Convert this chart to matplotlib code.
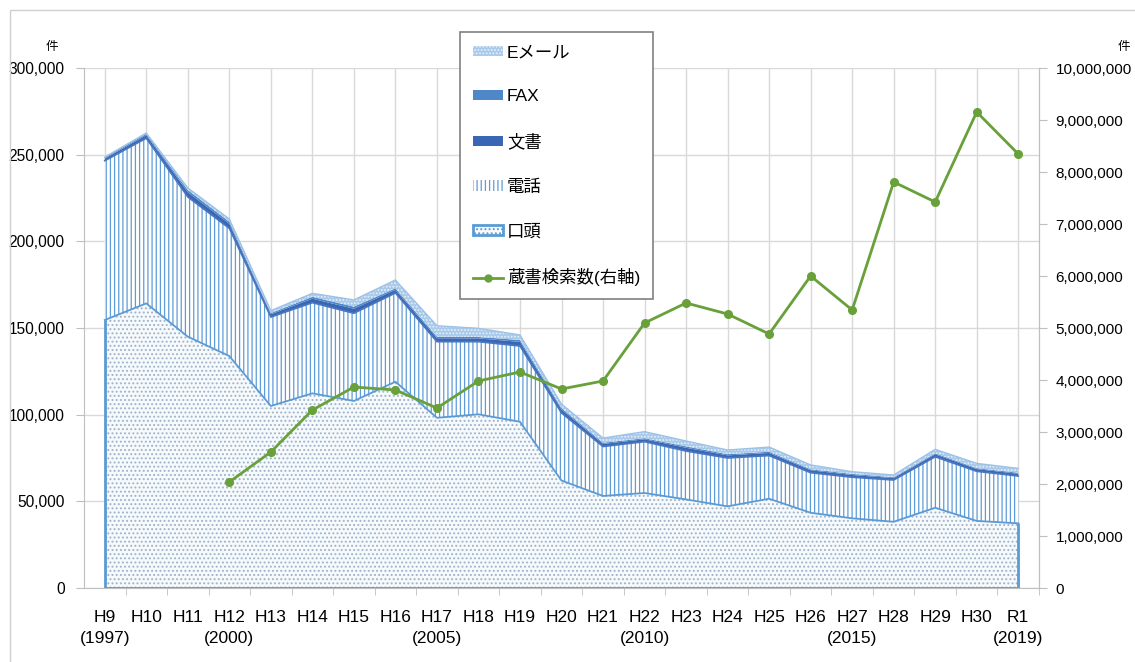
import numpy as np
import matplotlib
matplotlib.use('Agg')
import matplotlib.pyplot as plt
from matplotlib.patches import Patch, Rectangle
from matplotlib.lines import Line2D
from matplotlib.ticker import FuncFormatter, MultipleLocator

plt.rcParams['font.family'] = ['Liberation Sans', 'Noto Sans CJK JP']
plt.rcParams['hatch.linewidth'] = 0.9

# --- data ---
years = ['H9\n(1997)', 'H10', 'H11', 'H12\n(2000)', 'H13', 'H14', 'H15', 'H16',
         'H17\n(2005)', 'H18', 'H19', 'H20', 'H21', 'H22\n(2010)', 'H23', 'H24',
         'H25', 'H26', 'H27\n(2015)', 'H28', 'H29', 'H30', 'R1\n(2019)']
koutou = [154600, 164200, 145000, 133800, 105000, 112300, 107900, 119000,
          98200, 100200, 95900, 62000, 53100, 54800, 51100, 47100,
          51500, 43400, 40200, 38200, 46300, 38700, 37300]
denwa = [91900, 95300, 80600, 73700, 51300, 52300, 50600, 51200,
         43900, 41900, 43700, 39000, 28500, 29600, 27900, 27900,
         24900, 23100, 23700, 24100, 29400, 28600, 27300]
bunsho = [1200, 1700, 2700, 2600, 1600, 2300, 2600, 1800,
          2000, 1900, 2400, 1900, 1500, 1400, 1900, 1500,
          1500, 1400, 1300, 1100, 1400, 1300, 1300]
fax = [600, 800, 1300, 1200, 700, 1100, 1200, 900,
       900, 800, 1100, 900, 700, 600, 800, 700,
       700, 600, 600, 500, 600, 500, 600]
email = [300, 500, 1200, 1600, 1400, 2000, 3900, 4800,
         6300, 5000, 2900, 2300, 2700, 3800, 3100, 2400,
         2700, 2500, 1300, 1300, 2300, 2800, 2500]
kensaku = [np.nan, np.nan, np.nan, 2038000, 2615000, 3423000, 3865000, 3808000,
           3461000, 3981000, 4154000, 3827000, 3981000, 5096000, 5481000, 5269000,
           4885000, 6000000, 5346000, 7808000, 7423000, 9154000, 8346000]

x = np.arange(len(years))
c1 = np.array(koutou)
c2 = c1 + np.array(denwa)
c3 = c2 + np.array(bunsho)
c4 = c3 + np.array(fax)
c5 = c4 + np.array(email)

fig = plt.figure(figsize=(11.35, 6.62), dpi=100)
ax = fig.add_axes([84 / 1135, 74 / 662, 955 / 1135, 520 / 662])

# outer frame of the original chart
fig.patches.append(Rectangle((10 / 1135, -0.1), 1.2, 1 - 10 / 662 + 0.1,
                             transform=fig.transFigure, fill=False,
                             edgecolor='#d0d0d0', lw=1))

c_blue = '#5b9bd5'
# 口頭
ax.fill_between(x, 0, c1, facecolor='#f7fafd', edgecolor='#9fb3c8', lw=0, hatch='....', zorder=2)
ax.plot(x, c1, color=c_blue, lw=1.3, zorder=3)
ax.vlines([x[0], x[-1]], 0, [c1[0], c1[-1]], color=c_blue, lw=2, zorder=3)
ax.hlines(0, x[0], x[-1], color=c_blue, lw=2, zorder=3)
# 電話
ax.fill_between(x, c1, c2, facecolor='white', edgecolor='#5f9bd8', lw=0, hatch='||||', zorder=2)
# 文書
ax.fill_between(x, c2, c3, facecolor='#3a66b4', lw=0, zorder=2)
ax.plot(x, c2, color='#4a78c0', lw=1.2, zorder=3)
# FAX
ax.fill_between(x, c3, c4, facecolor='#4f88c8', lw=0, zorder=2)
# Eメール
ax.fill_between(x, c4, c5, facecolor='#a8c9ea', edgecolor='#e6f0fa', lw=0, hatch='.....', zorder=2)
ax.plot(x, c5, color='#9cc2e8', lw=1, zorder=3)

ax.set_xlim(-0.5, len(years) - 0.5)
ax.set_ylim(0, 300000)
ax.yaxis.set_major_locator(MultipleLocator(50000))
ax.yaxis.set_major_formatter(FuncFormatter(lambda v, p: f'{int(v):,}'))
ax.set_xticks(x)
ax.set_xticklabels(years, fontsize=12.5, linespacing=1.5,
                   family=['Liberation Sans Narrow', 'Liberation Sans'])
ax.set_xticks(np.arange(-0.5, len(years), 1.0)[1:], minor=True)
ax.tick_params(axis='x', which='major', length=0, pad=16)
ax.tick_params(axis='x', which='minor', length=5, color='#bfbfbf')
ax.tick_params(axis='y', length=6, color='#bfbfbf', pad=8, labelsize=11.2)
ax.grid(True, color='#d9d9d9', lw=1)
ax.set_axisbelow(True)
ax.spines['top'].set_visible(False)
for s in ['left', 'bottom', 'right']:
    ax.spines[s].set_color('#bfbfbf')

ax2 = ax.twinx()
ax2.plot(x, kensaku, color='#68a03a', lw=2, marker='o', markersize=5.5, zorder=5)
ax2.set_ylim(0, 10000000)
ax2.yaxis.set_major_locator(MultipleLocator(1000000))
ax2.yaxis.set_major_formatter(FuncFormatter(lambda v, p: f'{int(v):,}'))
ax2.tick_params(axis='y', length=6, color='#bfbfbf', pad=6, labelsize=11)
for s in ['top', 'left', 'bottom']:
    ax2.spines[s].set_visible(False)
ax2.spines['right'].set_color('#bfbfbf')

fig.text(52 / 1135, 1 - 47 / 662, '件', fontsize=9, ha='center', va='center')
fig.text(1124 / 1135, 1 - 47 / 662, '件', fontsize=9, ha='center', va='center')

handles = [
    Patch(facecolor='#a8c9ea', edgecolor='#e6f0fa', hatch='.....', lw=0),
    Patch(facecolor='#4f88c8', lw=0),
    Patch(facecolor='#3a66b4', lw=0),
    Patch(facecolor='white', edgecolor='#5f9bd8', hatch='||||', lw=0),
    Patch(facecolor='#f7fafd', edgecolor=c_blue, hatch='....', lw=2),
    Line2D([], [], color='#68a03a', lw=2, marker='o', markersize=5),
]
labels = ['Eメール', 'FAX', '文書', '電話', '口頭', '蔵書検索数(右軸)']
leg = fig.legend(handles, labels, loc='upper left',
                 bbox_to_anchor=(460 / 1135, 1 - 32 / 662),
                 fontsize=12.5, labelspacing=1.68, borderpad=0.75,
                 handlelength=1.7, handleheight=0.55, handletextpad=0.25,
                 borderaxespad=0, frameon=True, fancybox=False, framealpha=1,
                 edgecolor='#808080')
leg.get_frame().set_linewidth(1.2)

fig.savefig('out.png', dpi=100)
